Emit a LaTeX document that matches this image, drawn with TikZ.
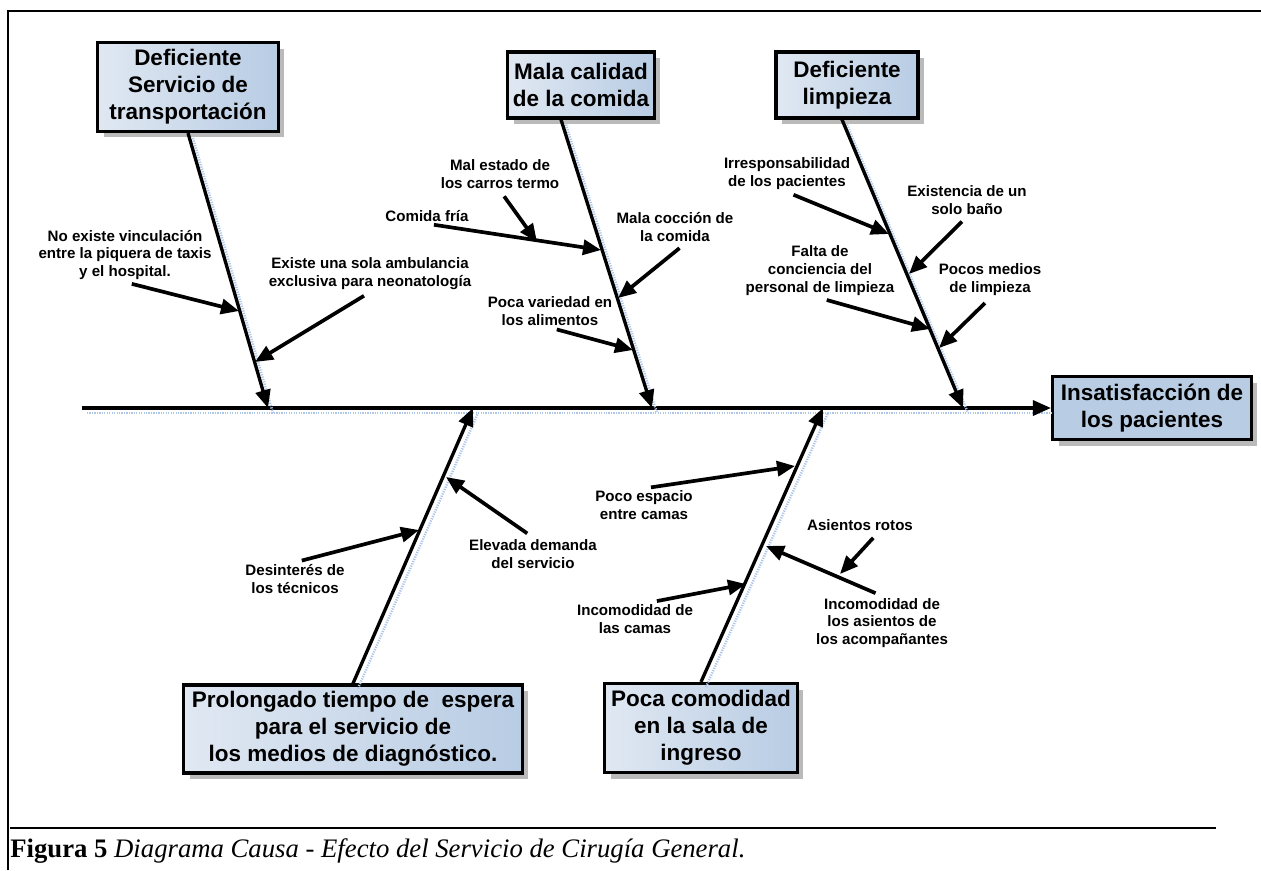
\documentclass[tikz,border=0pt]{standalone}
\usepackage{fontspec}
\setmainfont{Liberation Serif}
\newfontfamily\arialfont{Liberation Sans}
\usetikzlibrary{arrows.meta, positioning, calc, shadows}
\definecolor{boxlight}{RGB}{224,232,242}
\definecolor{boxblue}{RGB}{184,204,228}
\definecolor{shadeblue}{RGB}{120,160,220}

\begin{document}
\begin{tikzpicture}[x=0.02cm, y=-0.02cm,
  causebox/.style={draw, line width=1.8pt, left color=boxlight, right color=boxblue,
    align=center, inner sep=2pt, font=\arialfont\bfseries\fontsize{12.8}{15.3}\selectfont,
    drop shadow={shadow xshift=0.12cm, shadow yshift=-0.12cm, fill=black!45, opacity=0.6}},
  lbl/.style={align=center, inner sep=1pt, font=\arialfont\bfseries\fontsize{8.6}{10.2}\selectfont},
  bone/.style={line width=1.9pt, -{Triangle[length=0.36cm, width=0.3cm]},
    preaction={draw=shadeblue!60, line width=1.4pt, dash pattern=on 0.7pt off 0.7pt, arrows=-,
      transform canvas={shift={(0.1cm,-0.1cm)}}}},
  cause/.style={line width=2.1pt, shorten <=4pt, -{Triangle[length=0.36cm, width=0.3cm]}}]
  \useasboundingbox (0,0) rectangle (1261,870);

  % Frame
  \draw[line width=1.2pt] (8,870) -- (8,11) -- (1261,11);

  % Main causes and effect
  \node[causebox, minimum width=3.62cm, minimum height=1.78cm] (transp) at (188,87) {Deficiente\\Servicio de\\transportación};
  \node[causebox, minimum width=2.94cm, minimum height=1.32cm] (comida) at (581,85) {Mala calidad\\de la comida};
  \node[causebox, minimum width=2.84cm, minimum height=1.32cm] (limpieza) at (847,85) {Deficiente\\limpieza};
  \node[causebox, left color=boxblue, minimum width=3.98cm, minimum height=1.26cm] (efecto) at (1152,408) {Insatisfacción de\\los pacientes};
  \node[causebox, minimum width=6.78cm, minimum height=1.76cm] (espera) at (353,729) {Prolongado tiempo de~ espera\\para el servicio de\\los medios de diagnóstico.};
  \node[causebox, minimum width=3.86cm, minimum height=1.78cm] (comodidad) at (701,728) {Poca comodidad\\en la sala de\\ingreso};

  % Spine and bones
  \coordinate (cola) at (82,408);
  \coordinate (j1) at (268,408);
  \coordinate (j2) at (652,408);
  \coordinate (j3) at (963,408);
  \coordinate (j4) at (473,408);
  \coordinate (j5) at (823,408);
  \draw[bone] (cola) -- (efecto.west);
  \draw[bone] (transp.south) -- (j1);
  \draw[bone] ([xshift=-0.4cm]comida.south) -- (j2);
  \draw[bone] ([xshift=-0.1cm]limpieza.south) -- (j3);
  \draw[bone] (espera.north) -- (j4);
  \draw[bone] (comodidad.north) -- (j5);

  % Secondary causes
  \node[lbl] (taxis) at (125,255) {No existe vinculación\\entre la piquera de taxis\\y el hospital.};
  \node[lbl] (ambul) at (370,274) {Existe una sola ambulancia\\exclusiva para neonatología};
  \node[lbl] (carros) at (500,174) {Mal estado de\\los carros termo};
  \node[lbl] (fria) at (427,216) {Comida fría};
  \node[lbl] (coccion) at (675,227) {Mala cocción de\\la comida};
  \node[lbl] (variedad) at (550,311) {Poca variedad en\\los alimentos};
  \node[lbl] (irresp) at (787,174) {Irresponsabilidad\\de los pacientes};
  \node[lbl] (banno) at (967,200) {Existencia de un\\solo baño};
  \node[lbl] (concien) at (820,271) {Falta de\\conciencia del\\personal de limpieza};
  \node[lbl] (medios) at (990,280) {Pocos medios\\de limpieza};
  \node[lbl] (tecnicos) at (295,579) {Desinterés de\\los técnicos};
  \node[lbl] (demanda) at (533,554) {Elevada demanda\\del servicio};
  \node[lbl] (espacio) at (644,505) {Poco espacio\\entre camas};
  \node[lbl] (rotos) at (860,525) {Asientos rotos};
  \node[lbl] (asientos) at (882,623) {Incomodidad de\\los asientos de\\los acompañantes};
  \node[lbl] (camas) at (635,619) {Incomodidad de\\las camas};

  % Arrow tips on the bones
  \coordinate (t1) at (239,311);
  \coordinate (t2) at (255,362);
  \coordinate (t3) at (537,242);
  \coordinate (t4) at (601,250);
  \coordinate (t5) at (618,298);
  \coordinate (t6) at (633,350);
  \coordinate (t7) at (889,234);
  \coordinate (t8) at (909,274);
  \coordinate (t9) at (930,329);
  \coordinate (t10) at (939,348);
  \coordinate (t11) at (419,530);
  \coordinate (t12) at (446,477);
  \coordinate (t13) at (795,466);
  \coordinate (t14) at (840,574);
  \coordinate (t15) at (766,546);
  \coordinate (t16) at (746,584);

  \foreach \a/\b in {taxis.south/t1, ambul.south/t2, carros.south/t3, fria.south/t4,
    variedad.south/t6, irresp.south/t7, banno.south/t8, concien.south/t9, medios.south/t10,
    tecnicos.north/t11, demanda.north/t12, espacio.north/t13, asientos.north/t15} {
    \draw[cause] (\a) -- (\b);
  }
  \draw[cause] ([xshift=0.2cm]coccion.south) -- (t5);
  \draw[cause] ([xshift=0.36cm]rotos.south) -- (t14);
  \draw[cause] ([xshift=0.3cm]camas.north) -- (t16);

  % Caption
  \draw[line width=1pt] (10,828) -- (1216,828);
  \node[anchor=base west, inner sep=0, font=\fontsize{15.2}{17}\selectfont] (caption) at (10,857)
    {\textbf{Figura 5} \textit{Diagrama Causa - Efecto del Servicio de Cirugía General.}};
\end{tikzpicture}
\end{document}
